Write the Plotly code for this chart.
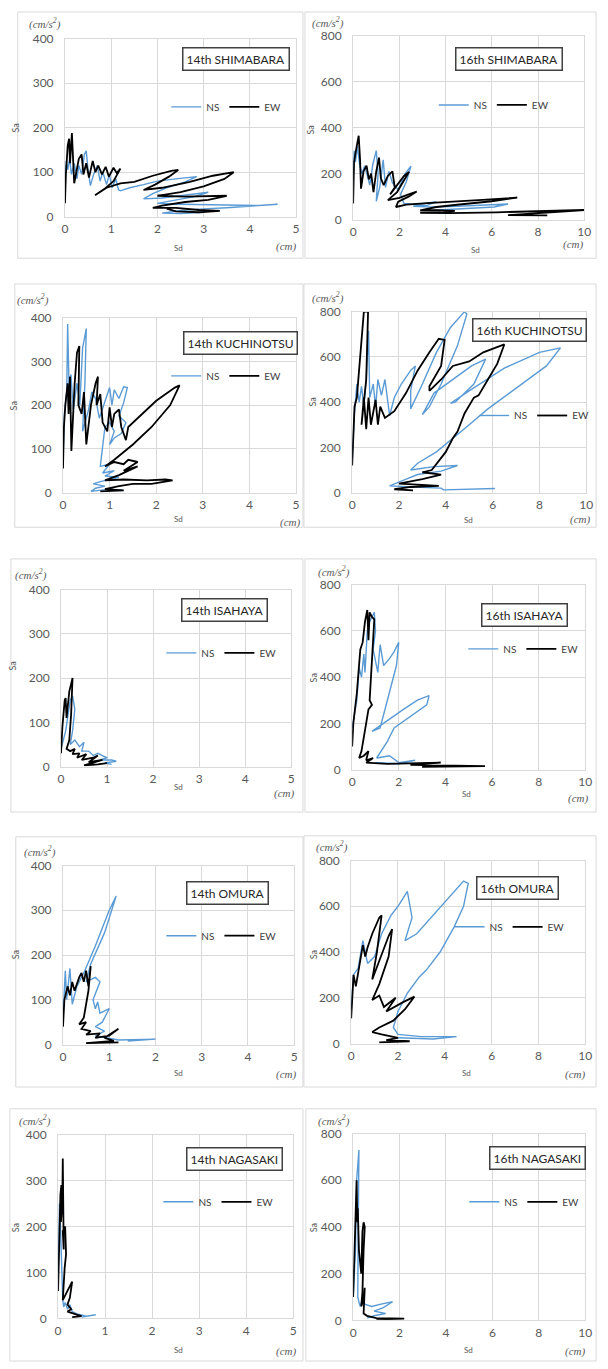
import plotly.graph_objects as go

W, H = 608, 1369

# ---------------- data: (Sd [cm], Sa [cm/s^2]) pairs ----------------
SHIMABARA14_NS = [(0.0, 90), (0.03, 125), (0.06, 105), (0.1, 130), (0.14, 95), (0.2, 120), (0.26, 85), (0.3, 115),
                  (0.36, 95), (0.42, 140), (0.46, 148), (0.5, 105), (0.55, 70), (0.62, 95), (0.7, 115), (0.76, 80),
                  (0.82, 100), (0.9, 72), (0.96, 95), (1.02, 65), (1.1, 85), (1.16, 60), (1.2, 58), (1.4, 65),
                  (1.7, 72), (2.0, 80), (2.4, 85), (2.85, 90), (2.6, 78), (2.2, 65), (1.9, 52), (1.7, 40),
                  (2.1, 42), (2.6, 48), (3.1, 55), (2.8, 45), (2.4, 37), (2.0, 30), (2.5, 28), (3.0, 27),
                  (3.6, 26), (4.2, 25), (4.6, 28), (4.1, 24), (3.5, 20), (2.9, 17), (2.5, 14), (2.1, 8),
                  (2.5, 7), (3.0, 10)]
SHIMABARA14_EW = [(0.0, 30), (0.02, 95), (0.06, 160), (0.09, 175), (0.11, 120), (0.15, 188), (0.2, 75), (0.24, 95),
                  (0.3, 130), (0.36, 140), (0.4, 95), (0.46, 120), (0.52, 88), (0.6, 125), (0.66, 100), (0.72, 115),
                  (0.8, 95), (0.88, 112), (0.95, 90), (1.05, 110), (1.12, 98), (1.2, 108), (1.05, 80), (0.85, 62),
                  (0.65, 48), (0.9, 65), (1.2, 75), (1.5, 78), (1.9, 92), (2.3, 103), (2.45, 105), (2.25, 90),
                  (1.95, 72), (1.7, 60), (2.1, 65), (2.7, 78), (3.2, 92), (3.65, 100), (3.45, 85), (3.0, 68),
                  (2.5, 55), (2.0, 47), (2.6, 45), (3.2, 46), (3.5, 47), (3.1, 38), (2.6, 33), (2.1, 25),
                  (1.9, 20), (2.4, 20), (2.9, 15), (3.35, 13), (2.9, 10), (2.4, 12), (2.2, 18)]

SHIMABARA16_NS = [(0.0, 170), (0.04, 300), (0.1, 250), (0.18, 320), (0.28, 240), (0.38, 200), (0.5, 235), (0.62, 190),
                  (0.72, 150), (0.85, 240), (1.0, 300), (1.08, 200), (1.0, 80), (1.15, 140), (1.3, 260), (1.4, 140),
                  (1.55, 210), (1.7, 160), (1.95, 130), (2.25, 200), (2.5, 232), (2.3, 165), (2.05, 110), (2.2, 70),
                  (2.8, 65), (3.6, 78), (3.2, 62), (2.6, 58), (3.5, 55), (4.5, 58), (5.5, 63), (6.7, 68),
                  (6.1, 55), (5.0, 48), (4.0, 42), (3.3, 40)]
SHIMABARA16_EW = [(0.0, 70), (0.04, 250), (0.12, 300), (0.24, 365), (0.3, 260), (0.34, 135), (0.45, 210), (0.58, 235),
                  (0.68, 175), (0.78, 200), (0.88, 120), (1.0, 210), (1.12, 270), (1.2, 180), (1.32, 150), (1.5, 190),
                  (1.7, 210), (1.8, 140), (1.6, 110), (1.9, 150), (2.2, 190), (2.42, 208), (2.2, 170), (1.9, 120),
                  (1.5, 85), (2.0, 95), (2.4, 110), (2.75, 122), (2.4, 100), (1.95, 78), (1.85, 55), (2.3, 65),
                  (3.2, 72), (4.2, 77), (5.6, 86), (7.1, 96), (6.0, 80), (4.6, 66), (3.6, 55), (2.9, 40),
                  (3.6, 41), (4.4, 38), (3.8, 31), (2.9, 30), (4.2, 28), (6.2, 32), (8.2, 37), (10.0, 42),
                  (9.2, 36), (7.5, 27), (6.7, 20), (8.4, 19)]

KUCHINOTSU14_NS = [(0.0, 70), (0.03, 180), (0.08, 230), (0.1, 385), (0.13, 240), (0.17, 270), (0.22, 190), (0.3, 250),
                   (0.36, 200), (0.42, 330), (0.5, 375), (0.47, 250), (0.42, 140), (0.55, 190), (0.62, 230), (0.7, 215),
                   (0.78, 170), (0.9, 210), (1.0, 240), (1.05, 200), (1.1, 235), (1.2, 215), (1.3, 242), (1.38, 240),
                   (1.3, 205), (1.2, 175), (1.35, 160), (1.25, 135), (1.1, 125), (1.0, 110), (1.1, 140), (1.0, 160),
                   (0.9, 150), (0.8, 60), (1.0, 65), (0.85, 45), (1.1, 50), (0.9, 38), (1.2, 35), (0.8, 25),
                   (0.65, 20), (0.9, 15), (0.7, 10), (0.6, 3), (1.0, 8), (1.3, 5)]
KUCHINOTSU14_EW = [(0.0, 55), (0.02, 150), (0.05, 200), (0.1, 250), (0.12, 180), (0.15, 265), (0.18, 95), (0.25, 250),
                   (0.3, 320), (0.35, 335), (0.33, 200), (0.4, 180), (0.45, 230), (0.5, 110), (0.6, 200), (0.7, 250),
                   (0.75, 265), (0.72, 200), (0.8, 225), (0.85, 160), (0.95, 140), (1.0, 195), (1.05, 150), (1.1, 180),
                   (1.2, 190), (1.25, 150), (1.35, 120), (1.4, 150), (1.6, 170), (2.0, 210), (2.4, 240), (2.5, 245),
                   (2.3, 200), (1.9, 150), (1.5, 110), (1.1, 75), (0.9, 60), (1.1, 70), (1.3, 65), (1.4, 75),
                   (1.6, 70), (1.3, 50), (1.6, 60), (1.2, 40), (0.9, 28), (1.3, 30), (1.8, 28), (2.2, 30),
                   (2.35, 28), (1.9, 20), (1.5, 20), (1.2, 15), (0.9, 8), (1.3, 5), (0.8, 3)]

KUCHINOTSU16_NS = [(0.0, 150), (0.1, 350), (0.2, 480), (0.3, 400), (0.4, 470), (0.5, 380), (0.6, 500), (0.7, 715),
                   (0.75, 420), (0.9, 480), (1.0, 380), (1.1, 500), (1.25, 430), (1.4, 500), (1.6, 340), (1.8, 420),
                   (2.1, 480), (2.5, 540), (2.7, 560), (2.5, 450), (2.5, 370), (3.0, 480), (3.6, 620), (4.2, 730),
                   (4.8, 800), (4.9, 790), (4.5, 650), (3.8, 480), (3.3, 380), (3.0, 345), (3.5, 440), (4.3, 500),
                   (5.1, 560), (5.7, 590), (5.2, 480), (4.4, 400), (4.2, 395), (5.0, 450), (6.5, 550), (8.0, 620),
                   (8.9, 640), (8.3, 560), (7.0, 460), (5.8, 370), (5.0, 300), (4.2, 230), (3.6, 180), (2.8, 130),
                   (2.5, 100), (3.5, 115), (4.5, 120), (3.8, 95), (2.8, 80), (2.2, 55), (1.6, 30), (2.6, 25),
                   (3.8, 20), (3.9, 12), (5.0, 15), (6.1, 18)]
KUCHINOTSU16_EW = [(0.0, 120), (0.05, 300), (0.1, 380), (0.2, 420), (0.35, 600), (0.5, 800), (0.68, 800), (0.6, 500),
                   (0.4, 300), (0.5, 420), (0.6, 280), (0.7, 420), (0.8, 300), (0.9, 360), (1.0, 410), (1.1, 300),
                   (1.2, 380), (1.4, 330), (1.8, 360), (2.3, 440), (2.8, 540), (3.3, 620), (3.7, 680), (3.95, 675),
                   (3.8, 560), (3.3, 470), (3.3, 450), (3.8, 500), (4.3, 560), (5.0, 580), (5.6, 620), (6.5, 655),
                   (6.2, 570), (5.8, 500), (5.4, 430), (5.2, 420), (4.8, 350), (4.5, 270), (4.3, 240), (4.0, 180),
                   (3.7, 140), (3.4, 100), (3.0, 90), (3.8, 80), (3.0, 60), (2.5, 50), (2.0, 40), (2.8, 35),
                   (3.7, 30), (2.5, 25), (1.8, 15), (2.6, 10)]

ISAHAYA14_NS = [(0.0, 40), (0.1, 80), (0.2, 150), (0.25, 160), (0.3, 130), (0.25, 80), (0.2, 50), (0.3, 60),
                (0.4, 45), (0.5, 55), (0.45, 35), (0.6, 35), (0.7, 25), (0.8, 30), (0.9, 25), (1.0, 20),
                (0.85, 15), (1.1, 15), (1.2, 12), (0.95, 8), (1.1, 5)]
ISAHAYA14_EW = [(0.0, 30), (0.03, 90), (0.08, 150), (0.1, 155), (0.12, 110), (0.18, 170), (0.25, 200), (0.22, 120),
                (0.18, 60), (0.12, 40), (0.2, 35), (0.3, 40), (0.25, 28), (0.4, 30), (0.35, 20), (0.55, 28),
                (0.45, 15), (0.7, 20), (0.8, 25), (0.6, 10), (0.9, 15), (0.5, 3), (0.8, 5), (1.0, 8)]

ISAHAYA16_NS = [(0.0, 180), (0.2, 300), (0.3, 440), (0.4, 400), (0.5, 500), (0.55, 420), (0.65, 600), (0.75, 640),
                (0.85, 660), (0.95, 680), (1.0, 600), (0.9, 520), (1.1, 420), (1.2, 540), (1.35, 450), (1.6, 480),
                (1.8, 510), (2.0, 550), (1.9, 450), (1.5, 300), (1.2, 180), (0.85, 165), (1.6, 220), (2.2, 260),
                (2.8, 300), (3.3, 320), (3.2, 280), (2.5, 230), (1.8, 180), (1.5, 120), (1.05, 50), (1.6, 60),
                (2.0, 30), (2.7, 40), (2.0, 25), (1.0, 30)]
ISAHAYA16_EW = [(0.0, 100), (0.05, 200), (0.2, 330), (0.3, 450), (0.35, 520), (0.45, 550), (0.55, 640), (0.65, 690),
                (0.7, 560), (0.75, 680), (0.85, 660), (0.95, 650), (0.9, 560), (0.8, 430), (0.75, 300), (0.85, 280),
                (0.7, 260), (0.6, 200), (0.5, 140), (0.4, 80), (0.3, 50), (0.5, 60), (0.7, 80), (0.6, 40),
                (0.9, 50), (0.6, 30), (1.5, 25), (2.5, 28), (3.8, 30), (2.5, 20), (4.5, 18), (5.7, 15), (3.0, 12)]

OMURA14_NS = [(0.0, 60), (0.05, 165), (0.08, 100), (0.15, 170), (0.2, 90), (0.3, 130), (0.45, 160), (0.7, 220),
              (1.0, 300), (1.15, 332), (0.9, 250), (0.6, 180), (0.5, 140), (0.7, 150), (0.8, 140), (0.65, 100),
              (0.7, 80), (0.75, 95), (0.8, 70), (1.0, 80), (0.85, 50), (0.7, 40), (0.9, 30), (0.7, 20),
              (1.2, 10), (2.0, 12), (1.4, 8)]
OMURA14_EW = [(0.0, 40), (0.03, 100), (0.1, 130), (0.15, 110), (0.2, 140), (0.25, 120), (0.35, 150), (0.4, 160),
              (0.45, 140), (0.5, 165), (0.55, 130), (0.6, 175), (0.55, 120), (0.5, 90), (0.45, 60), (0.35, 45),
              (0.5, 50), (0.4, 35), (0.6, 30), (0.5, 22), (0.8, 25), (0.7, 15), (1.0, 20), (1.2, 35),
              (0.9, 15), (1.1, 8), (0.5, 3), (1.2, 5)]

OMURA16_NS = [(0.0, 150), (0.1, 300), (0.3, 330), (0.5, 450), (0.7, 350), (1.0, 380), (1.3, 480), (1.7, 560),
              (2.0, 600), (2.4, 665), (2.6, 550), (2.3, 450), (2.8, 480), (3.5, 560), (4.2, 640), (4.8, 710),
              (5.0, 700), (4.8, 600), (4.4, 510), (3.8, 400), (3.2, 320), (2.9, 290), (2.4, 220), (2.0, 140),
              (1.8, 70), (2.0, 40), (3.0, 30), (4.5, 30), (3.5, 20), (2.0, 25)]
OMURA16_EW = [(0.0, 110), (0.1, 300), (0.2, 250), (0.35, 350), (0.5, 430), (0.6, 380), (0.7, 420), (0.9, 480),
              (1.2, 550), (1.3, 560), (1.1, 400), (0.9, 280), (1.2, 360), (1.6, 470), (1.75, 500), (1.6, 380),
              (1.2, 260), (0.9, 190), (1.2, 210), (1.4, 160), (1.9, 200), (1.5, 140), (2.2, 180), (2.7, 205),
              (2.3, 150), (1.8, 100), (1.2, 70), (0.9, 50), (1.3, 40), (1.6, 35), (2.0, 25), (1.5, 15),
              (2.5, 10), (1.2, 5)]

NAGASAKI14_NS = [(0.0, 100), (0.03, 250), (0.05, 200), (0.07, 130), (0.08, 70), (0.1, 40), (0.12, 25), (0.15, 35),
                 (0.2, 20), (0.25, 30), (0.3, 15), (0.4, 10), (0.6, 5), (0.8, 8), (0.5, 3)]
NAGASAKI14_EW = [(0.0, 60), (0.03, 200), (0.05, 270), (0.07, 290), (0.06, 210), (0.09, 250), (0.1, 348), (0.12, 150),
                 (0.1, 190), (0.15, 200), (0.17, 140), (0.14, 110), (0.12, 60), (0.1, 40), (0.2, 60), (0.25, 70),
                 (0.3, 80), (0.25, 45), (0.2, 30), (0.28, 20), (0.2, 15), (0.35, 10), (0.5, 5), (0.3, 3)]

NAGASAKI16_NS = [(0.0, 100), (0.1, 300), (0.15, 600), (0.2, 650), (0.25, 730), (0.22, 400), (0.18, 150), (0.2, 100),
                 (0.3, 60), (0.4, 90), (0.5, 70), (0.8, 60), (1.2, 70), (1.7, 80), (1.3, 55), (0.9, 40),
                 (1.4, 30), (0.9, 20), (0.6, 10)]
NAGASAKI16_EW = [(0.0, 100), (0.05, 300), (0.1, 500), (0.15, 600), (0.18, 420), (0.2, 480), (0.25, 300), (0.35, 200),
                 (0.4, 380), (0.45, 420), (0.5, 400), (0.45, 300), (0.4, 120), (0.35, 60), (0.45, 90), (0.5, 140),
                 (0.45, 30), (0.6, 20), (1.0, 10), (2.2, 8), (1.0, 5)]

PANEL_TITLES = ["14th SHIMABARA", "16th SHIMABARA", "14th KUCHINOTSU", "16th KUCHINOTSU",
                "14th ISAHAYA", "16th ISAHAYA", "14th OMURA", "16th OMURA", "14th NAGASAKI", "16th NAGASAKI"]
NS_SERIES = [SHIMABARA14_NS, SHIMABARA16_NS, KUCHINOTSU14_NS, KUCHINOTSU16_NS, ISAHAYA14_NS,
             ISAHAYA16_NS, OMURA14_NS, OMURA16_NS, NAGASAKI14_NS, NAGASAKI16_NS]
EW_SERIES = [SHIMABARA14_EW, SHIMABARA16_EW, KUCHINOTSU14_EW, KUCHINOTSU16_EW, ISAHAYA14_EW,
             ISAHAYA16_EW, OMURA14_EW, OMURA16_EW, NAGASAKI14_EW, NAGASAKI16_EW]
SD_MAX = [5, 10, 5, 10, 5, 10, 5, 10, 5, 10]
SA_MAX = [400, 800, 400, 800, 400, 800, 400, 800, 400, 800]
SD_STEP = [1, 2, 1, 2, 1, 2, 1, 2, 1, 2]
SA_STEP = [100, 200, 100, 200, 100, 200, 100, 200, 100, 200]

# ---------------- layout geometry (pixels) ----------------
PLOT_BOX = [(63, 298, 31, 211), (356, 591, 28, 214), (61, 298, 313, 490), (355, 593, 307, 490),
            (59, 293, 588, 767), (355, 592, 583, 770), (61, 296, 867, 1048), (354, 592, 862, 1047),
            (56, 295, 1139, 1325), (356, 592, 1138, 1327)]
PANEL_BOX = [(15, 305, 4, 253), (307, 603, 4, 253), (12, 305, 279, 525), (306, 603, 279, 525),
             (8, 305, 557, 813), (307, 603, 557, 813), (13, 305, 838, 1091), (306, 603, 837, 1091),
             (7, 305, 1113, 1368), (308, 603, 1113, 1368)]
TITLE_POS = [(237, 52), (514, 52), (241, 339), (535, 326), (225, 609), (530, 614), (228, 895), (523, 890),
             (235, 1164), (543, 1163)]
LEGEND_POS = [(188, 100), (460, 98), (188, 372), (501, 412), (183, 652), (490, 648), (183, 938), (476, 929),
              (180, 1207), (491, 1207)]
UNIT_Y_POS = [(43, 16), (330, 15), (30, 295), (330, 293), (28, 573), (337, 570), (38, 853), (335, 848),
              (33, 1125), (337, 1125)]
UNIT_X_POS = [(288, 241), (580, 239), (292, 520), (587, 517), (286, 794), (585, 799), (288, 1078), (582, 1078),
              (288, 1358), (582, 1358)]
SD_LABEL_POS = [(178, 243), (480, 245), (178, 517), (473, 518), (178, 788), (471, 795), (178, 1077), (471, 1077),
                (178, 1357), (473, 1357)]
SA_LABEL_POS = [(13, 121), (313, 123), (11, 402), (315, 398), (10, 665), (316, 677), (13, 957), (316, 957),
                (13, 1233), (316, 1233)]

BLUE = "#5B9BD5"
BLACK = "#000000"
GRID = "#D9D9D9"
TXT = "#595959"
FONT = "Lato, 'Open Sans', sans-serif"


def px(x):
    return x / W


def py(y):
    return 1 - y / H


fig = go.Figure()
layout = dict(
    width=W, height=H, margin=dict(l=0, r=0, t=0, b=0),
    paper_bgcolor="white", plot_bgcolor="white",
    font=dict(family=FONT, color=TXT, size=12),
    annotations=[], shapes=[],
)

for i in range(10):
    k = "" if i == 0 else str(i + 1)
    xa, ya = "x" + k, "y" + k
    leg = "legend" + k
    x0, x1, y0, y1 = PLOT_BOX[i]

    ns_sd = [p[0] for p in NS_SERIES[i]]
    ns_sa = [p[1] for p in NS_SERIES[i]]
    ew_sd = [p[0] for p in EW_SERIES[i]]
    ew_sa = [p[1] for p in EW_SERIES[i]]

    fig.add_trace(go.Scatter(x=ns_sd, y=ns_sa, mode="lines", name="NS", xaxis=xa, yaxis=ya, legend=leg,
                             line=dict(color=BLUE, width=1.4), cliponaxis=True))
    fig.add_trace(go.Scatter(x=ew_sd, y=ew_sa, mode="lines", name="EW", xaxis=xa, yaxis=ya, legend=leg,
                             line=dict(color=BLACK, width=1.8), cliponaxis=True))

    layout["xaxis" + k] = dict(
        domain=[px(x0), px(x1)], anchor=ya, range=[0, SD_MAX[i]], dtick=SD_STEP[i], tick0=0,
        showgrid=True, gridcolor=GRID, gridwidth=1, zeroline=False,
        showline=True, linecolor=GRID, linewidth=1, mirror=True,
        ticks="outside", ticklen=1, tickcolor="rgba(0,0,0,0)",
        tickfont=dict(size=12, color=TXT, family=FONT), fixedrange=True)
    layout["yaxis" + k] = dict(
        domain=[py(y1), py(y0)], anchor=xa, range=[0, SA_MAX[i]], dtick=SA_STEP[i], tick0=0,
        showgrid=True, gridcolor=GRID, gridwidth=1, zeroline=False,
        showline=True, linecolor=GRID, linewidth=1, mirror=True,
        ticks="outside", ticklen=8, tickcolor="rgba(0,0,0,0)",
        tickfont=dict(size=12, color=TXT, family=FONT), fixedrange=True)

    lx, ly = LEGEND_POS[i]
    layout[leg] = dict(orientation="h", x=px(lx - 22), y=py(ly), xanchor="left", yanchor="middle",
                       bgcolor="rgba(0,0,0,0)", borderwidth=0, itemwidth=30,
                       font=dict(size=10, color="#404040", family=FONT))

    # panel frame
    bx0, bx1, by0, by1 = PANEL_BOX[i]
    layout["shapes"].append(dict(type="rect", xref="paper", yref="paper", x0=px(bx0), x1=px(bx1),
                                 y0=py(by1), y1=py(by0), line=dict(color=GRID, width=1), layer="below"))

    tx, ty = TITLE_POS[i]
    layout["annotations"].append(dict(text=PANEL_TITLES[i], xref="paper", yref="paper", x=px(tx), y=py(ty),
                                      showarrow=False, xanchor="center", yanchor="middle",
                                      font=dict(size=12, color="#262626", family=FONT),
                                      bordercolor="#404040", borderwidth=1.5, borderpad=3, bgcolor="white"))
    ux, uy = UNIT_Y_POS[i]
    layout["annotations"].append(dict(text="<i>(cm/s<sup>2</sup>)</i>", xref="paper", yref="paper",
                                      x=px(ux), y=py(uy), showarrow=False, xanchor="center", yanchor="middle",
                                      font=dict(size=11, color=TXT, family="'Liberation Serif', serif")))
    cx, cy = UNIT_X_POS[i]
    layout["annotations"].append(dict(text="<i>(cm)</i>", xref="paper", yref="paper",
                                      x=px(cx), y=py(cy), showarrow=False, xanchor="center", yanchor="middle",
                                      font=dict(size=11, color=TXT, family="'Liberation Serif', serif")))
    sx, sy = SD_LABEL_POS[i]
    layout["annotations"].append(dict(text="Sd", xref="paper", yref="paper", x=px(sx), y=py(sy),
                                      showarrow=False, xanchor="center", yanchor="middle",
                                      font=dict(size=8, color=TXT, family=FONT)))
    ax_, ay_ = SA_LABEL_POS[i]
    layout["annotations"].append(dict(text="Sa", xref="paper", yref="paper", x=px(ax_), y=py(ay_),
                                      showarrow=False, xanchor="center", yanchor="middle", textangle=-90,
                                      font=dict(size=9, color=TXT, family=FONT)))

fig.update_layout(**layout)
fig.write_html("out.html")
